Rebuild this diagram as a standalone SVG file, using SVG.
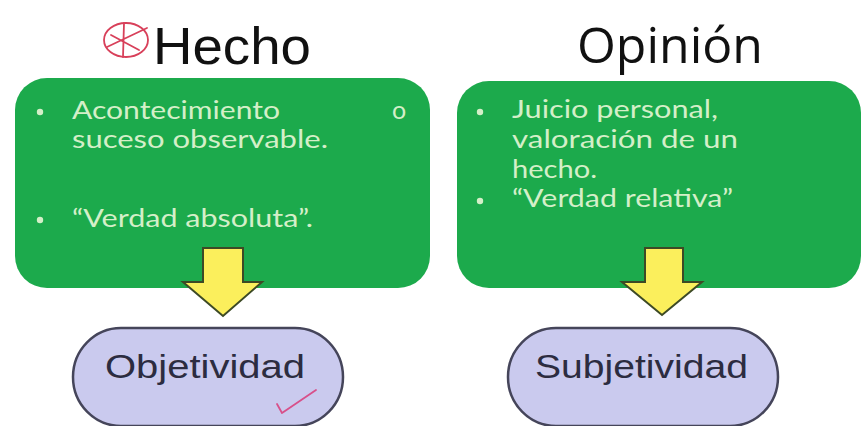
<svg xmlns="http://www.w3.org/2000/svg" width="861" height="426" viewBox="0 0 861 426">
<style>
.box{fill:#1caa4c;}
.bt{font-family:Lato,"Open Sans",sans-serif;font-size:25px;fill:#d4efc8;}
.bul{fill:#d4efc8;}
.arr{fill:#fbef5c;stroke:#3d4a25;stroke-width:2;stroke-linejoin:miter;}
.pill{fill:#cacaee;stroke:#45455a;stroke-width:2.5;}
.pt{font-family:"Liberation Sans",Arial,sans-serif;font-size:33px;fill:#2c2c40;}
.hd{font-family:"Liberation Sans",Arial,sans-serif;font-size:52px;fill:#111;}
.mark{fill:none;stroke:#d8405a;stroke-width:1.8;stroke-linecap:round;stroke-linejoin:round;}
</style>
<rect width="861" height="426" fill="#ffffff"/>
<g id="titulo-hecho">
<ellipse class="mark" cx="126" cy="40" rx="22" ry="17"/>
<path class="mark" d="M124 23 L123 57 M107 47 L147 28 M111 35 L139 50"/>
<text class="hd" x="153" y="64" textLength="158" lengthAdjust="spacingAndGlyphs">Hecho</text>
</g>
<g id="titulo-opinion">
<text class="hd" x="577" y="63" style="font-family:'Open Sans',sans-serif;font-size:50px" textLength="186" lengthAdjust="spacingAndGlyphs">Opinión</text>
</g>
<g id="hecho">
<rect class="box" x="15" y="78" width="415" height="210" rx="32"/>
<circle class="bul" cx="40" cy="112" r="3.2"/>
<text class="bt" x="72" y="119" textLength="208" lengthAdjust="spacingAndGlyphs">Acontecimiento</text>
<text class="bt" x="392" y="119">o</text>
<text class="bt" x="72" y="148" textLength="256" lengthAdjust="spacingAndGlyphs">suceso observable.</text>
<circle class="bul" cx="40" cy="220" r="3.2"/>
<text class="bt" x="72" y="227" textLength="241" lengthAdjust="spacingAndGlyphs">“Verdad absoluta”.</text>
</g>
<g id="opinion">
<rect class="box" x="457" y="81" width="404" height="207" rx="32"/>
<circle class="bul" cx="480" cy="112" r="3.2"/>
<text class="bt" x="512" y="118" textLength="206" lengthAdjust="spacingAndGlyphs">Juicio personal,</text>
<text class="bt" x="512" y="148" textLength="226" lengthAdjust="spacingAndGlyphs">valoración de un</text>
<text class="bt" x="512" y="178" textLength="85" lengthAdjust="spacingAndGlyphs">hecho.</text>
<circle class="bul" cx="480" cy="201" r="3.2"/>
<text class="bt" x="512" y="207" textLength="221" lengthAdjust="spacingAndGlyphs">“Verdad relativa”</text>
</g>
<g id="conectores">
<path class="arr" d="M203 248 L243 248 L243 282 L262 282 L223 316 L183 282 L203 282 Z"/>
<path class="arr" d="M645 248 L683 248 L683 282 L702 282 L662 315 L622 282 L645 282 Z"/>
</g>
<g id="objetividad">
<rect class="pill" x="73" y="328" width="270" height="98" rx="48" ry="49"/>
<text class="pt" x="105" y="378" textLength="200" lengthAdjust="spacingAndGlyphs">Objetividad</text>
<path class="mark" d="M277 404 L282 413 L316 390" style="stroke:#d8508a"/>
</g>
<g id="subjetividad">
<rect class="pill" x="508" y="328" width="270" height="98" rx="48" ry="49"/>
<text class="pt" x="535" y="378" textLength="213" lengthAdjust="spacingAndGlyphs">Subjetividad</text>
</g>
</svg>
